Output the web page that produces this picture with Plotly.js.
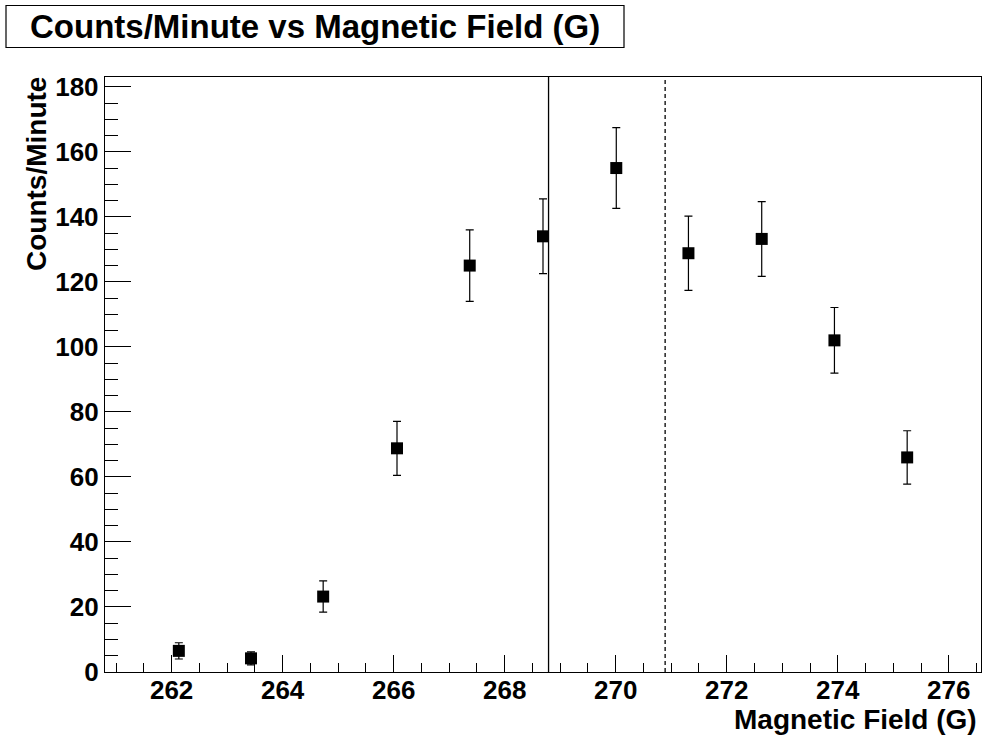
<!DOCTYPE html>
<html>
<head>
<meta charset="utf-8">
<script src="https://cdn.plot.ly/plotly-3.0.1.min.js"></script>
<style>html,body{margin:0;padding:0;background:#fff;}#plot{width:983px;height:736px;}</style>
</head>
<body>
<div id="plot"></div>
<script>
// Data
const fieldG = [262.13, 263.43, 264.73, 266.06, 267.37, 268.69, 270.01, 271.31, 272.63, 273.94, 275.25];
const countsPerMinute = [6.5, 4.2, 23.2, 68.8, 125, 134, 155, 128.8, 133.2, 102, 66];
const countsErr = [2.5, 2.0, 4.8, 8.3, 11.0, 11.5, 12.4, 11.4, 11.5, 10.1, 8.2];
const solidLineX = [268.79];
const dashedLineX = [270.89];
const xTickVals = [262, 264, 266, 268, 270, 272, 274, 276];
const yTickVals = [0, 20, 40, 60, 80, 100, 120, 140, 160, 180];

const FONT = 'Liberation Sans, Arial, Helvetica, sans-serif';

const trace = {
  x: fieldG,
  y: countsPerMinute,
  type: 'scatter',
  mode: 'markers',
  marker: {symbol: 'square', size: 12, color: '#000'},
  error_y: {type: 'data', array: countsErr, visible: true, color: '#000', thickness: 1.2, width: 4},
  hoverinfo: 'x+y'
};

const shapes = [];
solidLineX.forEach(v => shapes.push({type: 'line', xref: 'x', yref: 'paper', x0: v, x1: v, y0: 0, y1: 1, line: {color: '#000', width: 1.3}}));
dashedLineX.forEach(v => shapes.push({type: 'line', xref: 'x', yref: 'paper', x0: v, x1: v, y0: 0, y1: 1, line: {color: '#000', width: 1.3, dash: '4px,3px'}}));

const W = 983, H = 736;
const mL = 105, mR = 2, mT = 77, mB = 64;
const pw = W - mL - mR, ph = H - mT - mB;
const px = x => (x - mL) / pw;
const py = y => 1 - (y - mT) / ph;

// title box
shapes.push({type: 'rect', xref: 'paper', yref: 'paper', x0: px(6), x1: px(624), y0: py(47.5), y1: py(5.5), line: {color: '#000', width: 1.2}, fillcolor: 'rgba(0,0,0,0)'});

const layout = {
  width: W, height: H,
  margin: {l: mL, r: mR, t: mT, b: mB, pad: 0},
  paper_bgcolor: '#fff', plot_bgcolor: '#fff',
  showlegend: false,
  font: {family: FONT, color: '#000'},
  xaxis: {
    range: [260.8, 276.58], tickvals: xTickVals, ticktext: xTickVals.map(String),
    ticks: 'inside', ticklen: 17, tickwidth: 1, tickcolor: '#000',
    minor: {dtick: 0.5, tick0: 0, ticks: 'inside', ticklen: 9, tickwidth: 1, tickcolor: '#000', showgrid: false},
    showline: true, linecolor: '#000', linewidth: 1.2, mirror: true,
    showgrid: false, zeroline: false, ticklabelstandoff: -5,
    tickfont: {family: FONT, size: 26, color: '#000', weight: 'bold'}
  },
  yaxis: {
    range: [0, 183], tickvals: yTickVals, ticktext: yTickVals.map(String),
    ticks: 'inside', ticklen: 26, tickwidth: 1, tickcolor: '#000',
    minor: {dtick: 5, tick0: 0, ticks: 'inside', ticklen: 13, tickwidth: 1, tickcolor: '#000', showgrid: false},
    showline: true, linecolor: '#000', linewidth: 1.2, mirror: true,
    showgrid: false, zeroline: false,
    tickfont: {family: FONT, size: 26, color: '#000', weight: 'bold'}
  },
  shapes: shapes,
  annotations: [
    {text: '<b>Counts/Minute vs Magnetic Field (G)</b>', xref: 'paper', yref: 'paper', x: px(315), y: py(26.5), xanchor: 'center', yanchor: 'middle', showarrow: false, font: {family: FONT, size: 33, color: '#000'}},
    {text: '<b>Counts/Minute</b>', xref: 'paper', yref: 'paper', x: px(36), y: py(75), xanchor: 'center', yanchor: 'top', textangle: -90, showarrow: false, font: {family: FONT, size: 28, color: '#000'}},
    {text: '<b>Magnetic Field (G)</b>', xref: 'paper', yref: 'paper', x: px(979), y: py(719), xanchor: 'right', yanchor: 'middle', showarrow: false, font: {family: FONT, size: 28, color: '#000'}}
  ]
};

Plotly.newPlot('plot', [trace], layout, {displayModeBar: false, staticPlot: true});
</script>
</body>
</html>
